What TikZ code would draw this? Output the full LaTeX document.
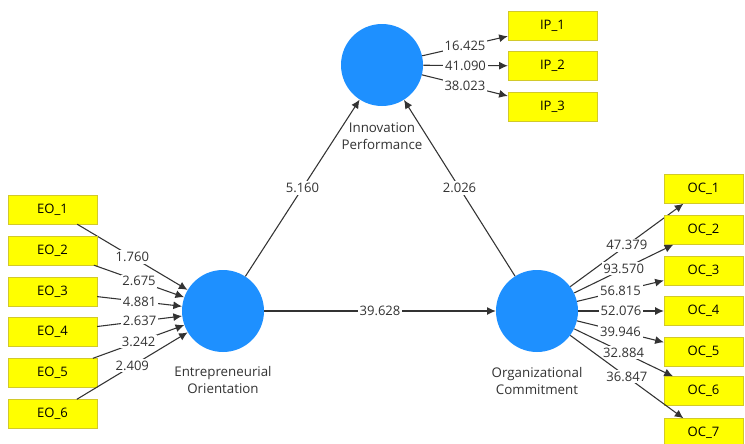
\documentclass[tikz,border=0pt]{standalone}
\usepackage{fontspec}
\setmainfont{Open Sans}
\usetikzlibrary{arrows.meta}
\definecolor{lvblue}{RGB}{30,144,255}
\definecolor{mvyellow}{RGB}{255,255,0}
\definecolor{inkgray}{RGB}{51,51,51}

\begin{document}
\begin{tikzpicture}[x=0.75pt,y=-0.75pt,
	latent/.style={circle,fill=lvblue,minimum size=61.5pt,inner sep=0pt},
	item/.style={rectangle,fill=mvyellow,draw=yellow!80!black,line width=0.3pt,
		minimum width=66.75pt,minimum height=21.75pt,inner sep=0pt,text=black,
		font=\fontsize{9.8}{11}\selectfont},
	lbl/.style={fill=white,inner sep=1.3pt,text=inkgray,font=\fontsize{9.8}{10}\selectfont},
	title/.style={align=center,text=inkgray,font=\fontsize{10}{12.8}\selectfont},
	link/.style={draw=inkgray,line width=0.8pt,-{Latex[length=6.5pt,width=6pt]}}]
	\clip (0,0) rectangle (745,443);
	\fill[white] (0,0) rectangle (745,443);
	
	% latent variables
	\node[latent] (ip) at (382,65) {};
	\node[latent] (eo) at (223,311) {};
	\node[latent] (oc) at (537,311) {};
	\node[title] (iptxt) at (382,136) {Innovation\\Performance};
	\node[title] (eotxt) at (223,380) {Entrepreneurial\\Orientation};
	\node[title] (octxt) at (537,381) {Organizational\\Commitment};
	
	% inner model
	\draw[link] (eo) -- node[lbl]{5.160} (ip);
	\draw[link] (oc) -- node[lbl]{2.026} (ip);
	\draw[link] (eo) -- node[lbl]{39.628} (oc);
	
	% EO items (formative)
	\foreach \i/\y/\v in {1/209.5/1.760, 2/250.5/2.675, 3/291.5/4.881, 4/332/2.637, 5/373/3.242, 6/414/2.409}
	{
		\node[item] (eo\i) at (52.5,\y) {EO\_\i};
		\draw[link] (eo\i) -- node[lbl]{\v} (eo);
	}
	
	% IP items
	\foreach \i/\y/\v in {1/26/16.425, 2/66/41.090, 3/107/38.023}
	{
		\node[item] (ip\i) at (552.5,\y) {IP\_\i};
		\draw[link] (ip) -- node[lbl]{\v} (ip\i);
	}
	
	% OC items
	\foreach \i/\y/\v in {1/189/47.379, 2/230/93.570, 3/271/56.815, 4/311/52.076, 5/352/39.946, 6/391/32.884, 7/433/36.847}
	{
		\node[item,minimum width=59.25pt] (oc\i) at (703.5,\y) {OC\_\i};
		\draw[link] (oc) -- node[lbl]{\v} (oc\i);
	}
\end{tikzpicture}
\end{document}
